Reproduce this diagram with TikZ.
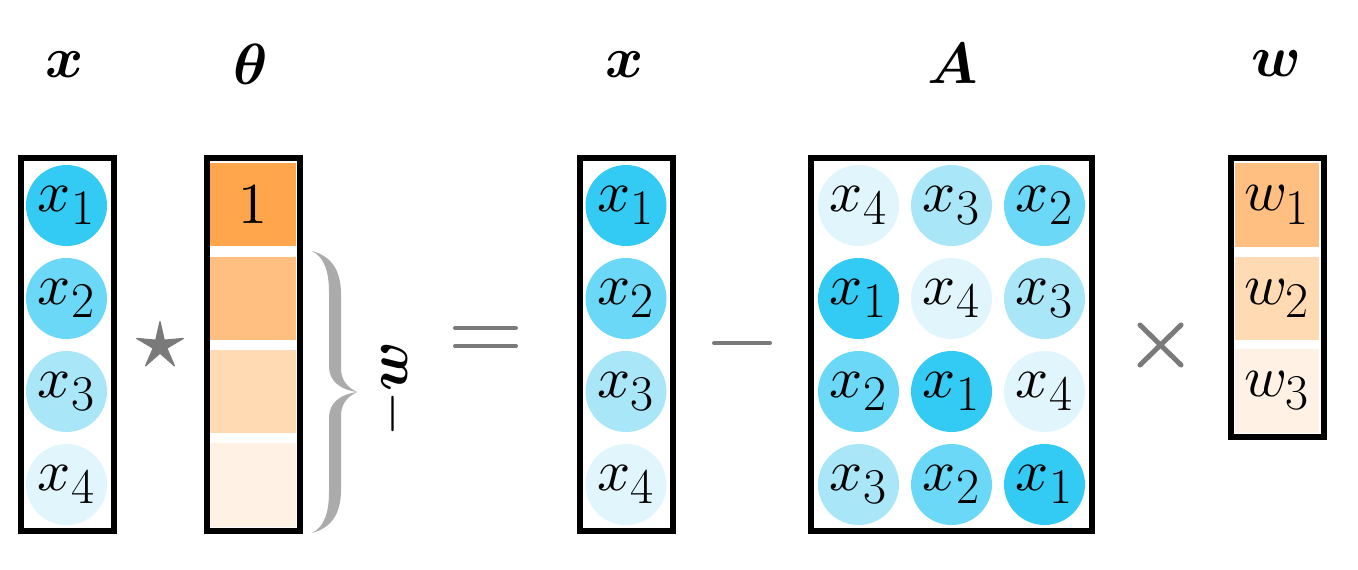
\documentclass[tikz,border=0pt]{standalone}
\usepackage{amsmath,bm}
\usetikzlibrary{shapes.geometric}
\DeclareFontFamily{OML}{cmm}{\skewchar\font127 }
\DeclareFontShape{OML}{cmm}{m}{it}{<->cmmi10}{}
\DeclareFontShape{OML}{cmm}{b}{it}{<->cmmib10}{}
\DeclareFontFamily{OT1}{cmr}{\hyphenchar\font45 }
\DeclareFontShape{OT1}{cmr}{m}{n}{<->cmr10}{}
\DeclareFontShape{OT1}{cmr}{bx}{n}{<->cmbx10}{}
\DeclareFontFamily{OMS}{cmsy}{\skewchar\font48 }
\DeclareFontShape{OMS}{cmsy}{m}{n}{<->cmsy10}{}
\DeclareFontShape{OMS}{cmsy}{b}{n}{<->cmbsy10}{}
\definecolor{cA}{HTML}{33CBF4}
\definecolor{cB}{HTML}{6AD8F6}
\definecolor{cC}{HTML}{A8E6F8}
\definecolor{cD}{HTML}{E0F5FC}
\definecolor{oA}{HTML}{FFA64D}
\definecolor{oB}{HTML}{FFBF80}
\definecolor{oC}{HTML}{FFDAB3}
\definecolor{oD}{HTML}{FFF2E4}
\definecolor{opg}{HTML}{7A7A7A}
\definecolor{braceg}{HTML}{ABABAB}
\newcommand\xsub[2]{$#1_{\mbox{\fontsize{25}{26}\selectfont #2}}$}
\tikzset{
  bigfont/.style={font=\fontsize{29}{30}\selectfont},
  ball/.style={circle, minimum size=40.5pt, inner sep=0pt, bigfont},
  frame/.style={draw=black, line width=3pt, inner sep=0pt, minimum width=46.5pt},
  cellbox/.style={inner sep=0pt, minimum height=41.75pt, bigfont},
  toplabel/.style={inner sep=0pt, bigfont},
  opline/.style={draw=opg, line width=2pt, line cap=round},
}
\begin{document}
\begin{tikzpicture}[x=0.5pt,y=-0.5pt]
\useasboundingbox (0,0) rectangle (1358,569);

% top labels
\node[toplabel] (lx1) at (65,65) {$\bm{x}$};
\node[toplabel] (lth) at (251,64) {$\bm{\theta}$};
\node[toplabel] (lx2) at (625,65) {$\bm{x}$};
\node[toplabel] (lA) at (953,64) {$\bm{A}$};
\node[toplabel] (lw) at (1276,64) {$\bm{w}$};

% left x column
\node[ball, fill=cA] (xa1) at (66.5,205.5) {\xsub{x}{1}};
\node[ball, fill=cB] (xa2) at (66.5,298.5) {\xsub{x}{2}};
\node[ball, fill=cC] (xa3) at (66.5,391.5) {\xsub{x}{3}};
\node[ball, fill=cD] (xa4) at (66.5,484.5) {\xsub{x}{4}};
\node[frame, minimum height=186.5pt] (fxa) at (67,344.5) {};

% star
\node[star, star points=5, star point ratio=3.4, fill=opg, draw=opg, line width=0.6pt, line join=round, minimum size=24.5pt, inner sep=0pt] (st) at (160,346) {};

% theta column
\node[cellbox, fill=oA, minimum width=43.5pt] (th1) at (252.5,204.5) {$1$};
\node[cellbox, fill=oB, minimum width=43.5pt] (th2) at (252.5,298.5) {};
\node[cellbox, fill=oC, minimum width=43.5pt] (th3) at (252.5,391.5) {};
\node[cellbox, fill=oD, minimum width=43.5pt] (th4) at (252.5,485) {};
\node[frame, minimum height=186.5pt] (fth) at (253.5,344.5) {};

% brace
\fill[braceg] (312,251) .. controls (324,257) and (329,271) .. (329,292) -- (329,366)
  .. controls (329,380) and (338,389) .. (357,392)
  .. controls (338,395) and (329,404) .. (329,418) -- (329,492)
  .. controls (329,513) and (324,527) .. (312,533)
  .. controls (331,528) and (341,514) .. (341,490) -- (341,416)
  .. controls (341,404) and (347,397) .. (357,392)
  .. controls (347,387) and (341,380) .. (341,368) -- (341,294)
  .. controls (341,270) and (331,256) .. (312,251) -- cycle;
\node[bigfont, rotate=90, inner sep=0pt] (negw) at (393,389) {$-\bm{w}$};

% equals
\coordinate (eqa) at (455,328); \coordinate (eqb) at (516,328);
\coordinate (eqc) at (455,346); \coordinate (eqd) at (516,346);
\draw[opline] (eqa) -- (eqb);
\draw[opline] (eqc) -- (eqd);

% middle x column
\node[ball, fill=cA] (xb1) at (626,205.5) {\xsub{x}{1}};
\node[ball, fill=cB] (xb2) at (626,298.5) {\xsub{x}{2}};
\node[ball, fill=cC] (xb3) at (626,391.5) {\xsub{x}{3}};
\node[ball, fill=cD] (xb4) at (626,484.5) {\xsub{x}{4}};
\node[frame, minimum height=186.5pt] (fxb) at (626,344.5) {};

% minus
\coordinate (ma) at (714,343); \coordinate (mb) at (770,343);
\draw[opline] (ma) -- (mb);

% matrix A
\node[ball, fill=cD] (a11) at (858.5,205.5) {\xsub{x}{4}};
\node[ball, fill=cC] (a12) at (951.5,205.5) {\xsub{x}{3}};
\node[ball, fill=cB] (a13) at (1044.5,205.5) {\xsub{x}{2}};
\node[ball, fill=cA] (a21) at (858.5,298.5) {\xsub{x}{1}};
\node[ball, fill=cD] (a22) at (951.5,298.5) {\xsub{x}{4}};
\node[ball, fill=cC] (a23) at (1044.5,298.5) {\xsub{x}{3}};
\node[ball, fill=cB] (a31) at (858.5,391.5) {\xsub{x}{2}};
\node[ball, fill=cA] (a32) at (951.5,391.5) {\xsub{x}{1}};
\node[ball, fill=cD] (a33) at (1044.5,391.5) {\xsub{x}{4}};
\node[ball, fill=cC] (a41) at (858.5,484.5) {\xsub{x}{3}};
\node[ball, fill=cB] (a42) at (951.5,484.5) {\xsub{x}{2}};
\node[ball, fill=cA] (a43) at (1044.5,484.5) {\xsub{x}{1}};
\node[frame, minimum width=140.5pt, minimum height=186.5pt] (fA) at (951.5,344.5) {};

% times
\coordinate (ta) at (1140,325); \coordinate (tb) at (1181,365);
\coordinate (tc) at (1140,365); \coordinate (td) at (1181,325);
\draw[opline, line width=2.5pt] (ta) -- (tb);
\draw[opline, line width=2.5pt] (tc) -- (td);

% w column
\node[cellbox, fill=oB, minimum width=42pt] (w1) at (1277,205) {\xsub{w}{1}};
\node[cellbox, fill=oC, minimum width=42pt] (w2) at (1277,298.5) {\xsub{w}{2}};
\node[cellbox, fill=oD, minimum width=42pt] (w3) at (1277,391) {\xsub{w}{3}};
\node[frame, minimum height=139.5pt] (fw) at (1277.5,297.5) {};
\end{tikzpicture}
\end{document}
